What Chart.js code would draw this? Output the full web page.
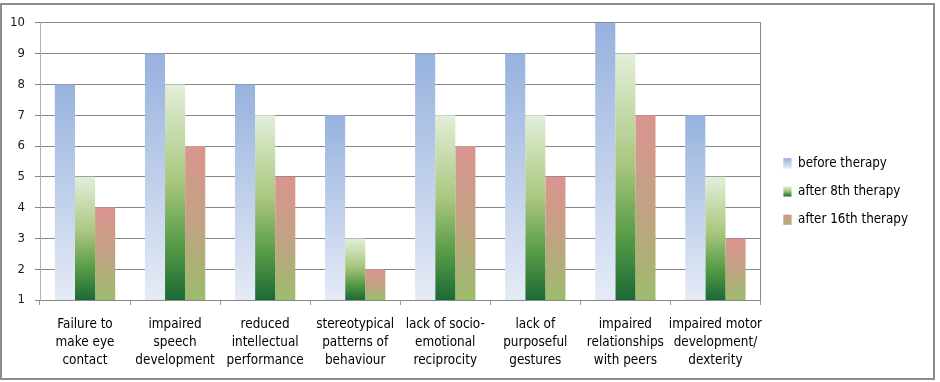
<!DOCTYPE html>
<html>
<head>
<meta charset="utf-8">
<script src="https://cdn.jsdelivr.net/npm/chart.js@4/dist/chart.umd.min.js"></script>
<style>
  body { margin: 0; background: #fff; }
  #wrap {
    position: absolute; left: 0; top: 3px;
    width: 935px; height: 377px;
    box-sizing: border-box;
    border: 2px solid #8c8c8c;
    background: #fff;
  }
</style>
</head>
<body>
<div id="wrap"><canvas id="chart"></canvas></div>
<script>
var categories = [
  ['Failure to', 'make eye', 'contact'],
  ['impaired', 'speech', 'development'],
  ['reduced', 'intellectual', 'performance'],
  ['stereotypical', 'patterns of', 'behaviour'],
  ['lack of socio-', 'emotional', 'reciprocity'],
  ['lack of', 'purposeful', 'gestures'],
  ['impaired', 'relationships', 'with peers'],
  ['impaired motor', 'development/', 'dexterity']
];
var beforeTherapy = [8, 9, 8, 7, 9, 9, 10, 7];
var after8th = [5, 8, 7, 3, 7, 7, 9, 5];
var after16th = [4, 6, 5, 2, 6, 5, 7, 3];
var yTicks = [1, 2, 3, 4, 5, 6, 7, 8, 9, 10];

// gradient stops per series (top -> bottom)
var blueStops = [[0, '#97b2de'], [1, '#e5ebf6']];
var greenStops = [[0, '#e3efda'], [0.45, '#a9c77e'], [0.75, '#559a45'], [1, '#1b6a36']];
var redStops = [[0, '#da948f'], [0.5, '#c2a283'], [1, '#9cbc6c']];
var solid = ['#b4c7e7', '#6aa84f', '#c0a080'];

var font = "'DejaVu Sans Condensed', 'DejaVu Sans', sans-serif";

function makeGradient(ctx, top, bottom, stops) {
  var g = ctx.createLinearGradient(0, top, 0, bottom);
  stops.forEach(function (s) { g.addColorStop(s[0], s[1]); });
  return g;
}

function barFill(stops, fallback) {
  return function (context) {
    var chart = context.chart;
    var y = chart.scales.y;
    if (!chart.chartArea || !y || context.parsed === undefined) return fallback;
    var top = y.getPixelForValue(context.parsed.y);
    var bottom = y.getPixelForValue(y.min);
    if (!isFinite(top) || !isFinite(bottom) || bottom - top < 1) return fallback;
    return makeGradient(chart.ctx, top, bottom, stops);
  };
}

// paint legend boxes with the same gradients as the bars
var legendGradients = {
  id: 'legendGradients',
  afterDraw: function (chart) {
    var legend = chart.legend;
    if (!legend || !legend.legendHitBoxes) return;
    var lab = legend.options.labels;
    var fs = lab.font.size;
    var all = [blueStops, greenStops, redStops];
    var ctx = chart.ctx;
    legend.legendHitBoxes.forEach(function (hb, i) {
      var top = hb.top + Math.max((fs - lab.boxHeight) / 2, 0);
      ctx.save();
      ctx.fillStyle = '#fff';
      ctx.fillRect(hb.left, top, lab.boxWidth, lab.boxHeight);
      ctx.fillStyle = makeGradient(ctx, top, top + lab.boxHeight, all[i]);
      ctx.fillRect(hb.left, top, lab.boxWidth, lab.boxHeight);
      ctx.restore();
    });
  }
};

new Chart(document.getElementById('chart'), {
  type: 'bar',
  data: {
    labels: categories,
    datasets: [
      { label: 'before therapy', data: beforeTherapy, backgroundColor: barFill(blueStops, solid[0]) },
      { label: 'after 8th therapy', data: after8th, backgroundColor: barFill(greenStops, solid[1]) },
      { label: 'after 16th therapy', data: after16th, backgroundColor: barFill(redStops, solid[2]) }
    ]
  },
  options: {
    responsive: true,
    maintainAspectRatio: false,
    animation: false,
    barPercentage: 1,
    categoryPercentage: 0.67,
    layout: { padding: { top: 0, left: 0, right: 15, bottom: 0 } },
    plugins: {
      tooltip: { enabled: false },
      // empty spacer above the plot only, so the legend stays centred on the whole box
      title: {
        display: true,
        text: ' ',
        fullSize: false,
        font: { size: 10, lineHeight: 1 },
        padding: { top: 3, bottom: 3 }
      },
      legend: {
        position: 'right',
        labels: {
          boxWidth: 8,
          boxHeight: 10,
          padding: 15,
          color: '#000',
          font: { family: font, size: 13.3 }
        }
      }
    },
    scales: {
      x: {
        grid: { offset: true, drawOnChartArea: false, tickLength: 5, color: '#999' },
        border: { color: '#8a8a8a' },
        ticks: {
          color: '#000',
          padding: 10,
          maxRotation: 0,
          autoSkip: false,
          font: { family: font, size: 13.4, lineHeight: 1.36 }
        },
        afterFit: function (scale) { scale.height = 78; }
      },
      y: {
        min: 1,
        max: 10,
        afterBuildTicks: function (scale) {
          scale.ticks = yTicks.map(function (v) { return { value: v }; });
        },
        grid: { color: '#878787', tickLength: 5 },
        border: { color: '#b0b0b0' },
        ticks: {
          color: '#1a1a1a',
          padding: 10,
          font: { family: font, size: 13 }
        },
        afterFit: function (scale) { scale.width = 38; }
      },
      y2: {
        position: 'right',
        min: 1,
        max: 10,
        grid: { display: false, drawTicks: false },
        border: { display: true, color: '#8a8a8a' },
        ticks: { display: false },
        afterFit: function (scale) { scale.width = 8; }
      }
    }
  },
  plugins: [legendGradients]
});
</script>
</body>
</html>
